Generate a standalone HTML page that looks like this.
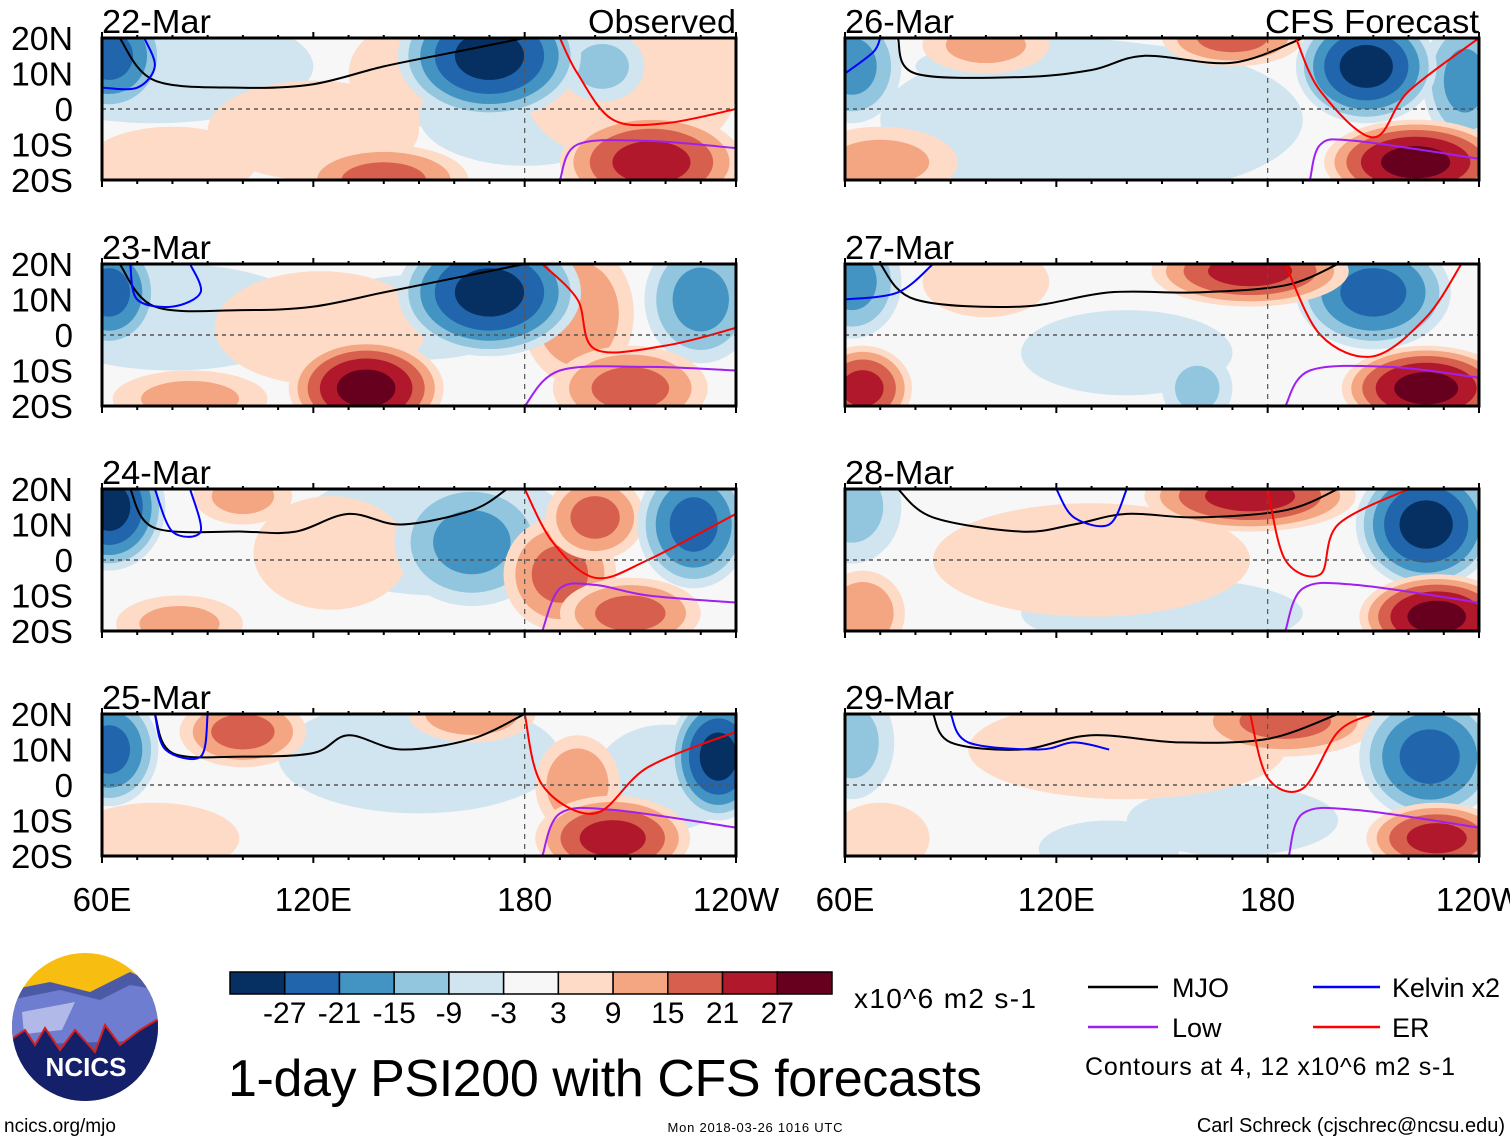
<!DOCTYPE html>
<html><head><meta charset="utf-8"><style>
html,body{margin:0;padding:0;background:#fff;}
svg{display:block;font-family:"Liberation Sans",Arial,sans-serif;}
</style></head><body>
<svg id="c" width="1510" height="1142" viewBox="0 0 1510 1142" xmlns="http://www.w3.org/2000/svg">
<defs>
<clipPath id="logoclip"><ellipse cx="85" cy="1027" rx="73" ry="74"/></clipPath>
</defs>
<g id="panels"></g>
<g id="footer">
  <g clip-path="url(#logoclip)">
    <rect x="10" y="950" width="150" height="155" fill="#f7bd10"/>
    <path d="M10,990 L50,982 L90,992 L130,972 L160,985 L160,1105 L10,1105 Z" fill="#4c5aa6"/>
    <path d="M10,1000 L60,990 L100,1000 L130,985 L160,990 L160,1040 L10,1045 Z" fill="#6f7dd0"/>
    <path d="M22,1012 L75,1002 L62,1030 L24,1034 Z" fill="#b0b9e8"/>
    <path d="M10,1040 L25,1030 L35,1045 L45,1028 L60,1050 L75,1030 L95,1052 L105,1025 L120,1045 L140,1030 L160,1018 L160,1105 L10,1105 Z" fill="#15206a" stroke="#d32020" stroke-width="2"/>
    <text x="86" y="1076" font-size="26" font-weight="bold" fill="#fff" text-anchor="middle">NCICS</text>
  </g>
  <g id="cbar"></g>
  <text x="854" y="1008" font-size="28" textLength="182">x10^6 m2 s-1</text>
  <text x="228" y="1096" font-size="52" textLength="754">1-day PSI200 with CFS forecasts</text>
  <g>
    <line x1="1088" y1="987" x2="1158" y2="987" stroke="#000" stroke-width="2.5"/>
    <text x="1172" y="997" font-size="27">MJO</text>
    <line x1="1313" y1="987" x2="1380" y2="987" stroke="#0000ff" stroke-width="2.5"/>
    <text x="1392" y="997" font-size="27" textLength="108">Kelvin x2</text>
    <line x1="1088" y1="1027" x2="1158" y2="1027" stroke="#a020f0" stroke-width="2.5"/>
    <text x="1172" y="1037" font-size="27">Low</text>
    <line x1="1313" y1="1027" x2="1380" y2="1027" stroke="#ff0000" stroke-width="2.5"/>
    <text x="1392" y="1037" font-size="27">ER</text>
    <text x="1085" y="1075" font-size="25" textLength="370">Contours at 4, 12 x10^6 m2 s-1</text>
  </g>
  <text x="4" y="1132" font-size="19">ncics.org/mjo</text>
  <text x="755" y="1132" font-size="13" text-anchor="middle" textLength="175">Mon 2018-03-26 1016 UTC</text>
  <text x="1505" y="1132" font-size="20" text-anchor="end">Carl Schreck (cjschrec@ncsu.edu)</text>
</g>
</svg>
<script>
const levels = [-27,-21,-15,-9,-3,3,9,15,21,27];
const levelColors = ["#053061","#2166ac","#4393c3","#92c5de","#d1e5f0","#f7f7f7","#fddbc7","#f4a582","#d6604d","#b2182b","#67001f"];
const panelDates = ["22-Mar","23-Mar","24-Mar","25-Mar","26-Mar","27-Mar","28-Mar","29-Mar"];
const latTicks = ["20N","10N","0","10S","20S"];
const lonTicks = ["60E","120E","180","120W"];
// blobs: [lon(0-360), lat, peak value, lon half-width deg, lat half-width deg]
const blobs22 = [[75,12,-6,45,16],[62,15,-21,16,16],[180,-2,-6,30,14],[170,15,-27,26,18],[202,12,-9,12,10],[210,5,6,30,20],[216,-15,21,26,14],[140,-20,15,24,10],[120,-6,6,30,14],[150,10,4,20,15],[228,15,6,24,12],[80,-15,4,24,10]];
const blobs23 = [[80,5,-5,40,15],[62,12,-21,14,16],[150,5,-4,30,12],[170,12,-27,26,18],[230,10,-15,16,18],[195,6,12,16,20],[210,-15,15,22,12],[135,-15,27,22,14],[122,2,6,30,16],[85,-18,9,22,8]];
const blobs24 = [[62,15,-27,16,18],[155,8,-6,40,18],[165,5,-15,22,18],[228,10,-21,16,18],[190,-4,15,16,16],[200,12,15,14,12],[210,-15,15,20,10],[100,18,9,14,8],[125,2,6,22,16],[82,-18,9,18,8]];
const blobs25 = [[62,10,-21,14,16],[235,8,-27,14,18],[100,15,15,18,10],[205,-15,21,22,12],[195,0,12,12,14],[165,20,12,18,8],[150,8,-4,40,16],[75,-15,6,24,10],[220,2,-5,20,15]];
const blobs26 = [[62,12,-15,14,16],[208,12,-27,20,16],[236,8,-15,12,18],[222,-15,27,26,12],[100,18,9,18,8],[170,20,15,20,8],[70,-15,9,22,10],[130,-3,-4,60,22],[120,12,-3,40,8]];
const blobs27 = [[62,15,-15,14,16],[210,12,-21,22,16],[175,18,21,28,10],[225,-15,27,24,12],[65,-15,21,14,12],[100,15,6,18,10],[160,-15,-9,10,10],[140,-5,-3,30,12]];
const blobs28 = [[62,15,-9,14,16],[225,10,-27,20,18],[175,18,21,30,10],[228,-16,27,22,12],[130,0,6,45,16],[65,-15,12,12,12],[150,-15,-3,40,10]];
const blobs29 = [[62,12,-9,12,16],[226,8,-21,20,18],[185,18,15,26,10],[228,-15,21,20,10],[140,10,6,45,14],[135,-18,-6,20,8],[70,-15,6,14,10],[170,-10,-3,30,10]];
const panelBlobs = [blobs22,blobs23,blobs24,blobs25,blobs26,blobs27,blobs28,blobs29];
const mjoLines = [
 [[65,20],[75,8],[100,6],[120,7],[140,12],[160,16],[180,20]],
 [[65,20],[75,8],[100,7],[120,8],[140,12],[160,16],[180,20]],
 [[68,20],[75,9],[100,8],[115,8],[130,13],[145,10],[165,14],[175,20]],
 [[75,20],[80,9],[100,8],[120,9],[130,14],[145,10],[165,13],[180,20]],
 [[75,20],[80,10],[110,9],[130,11],[145,15],[170,13],[190,20]],
 [[70,20],[80,10],[110,8],[135,12],[160,12],[185,14],[200,20]],
 [[75,20],[85,12],[110,8],[125,10],[140,13],[160,12],[185,14],[200,20]],
 [[85,20],[90,12],[110,10],[130,14],[155,12],[180,13],[200,20]]
];
const lowLines = [
 [[190,-20],[195,-10],[215,-9],[240,-11]],[[180,-20],[190,-10],[215,-9],[240,-10]],
 [[185,-20],[190,-8],[200,-7],[215,-10],[240,-12]],[[185,-20],[190,-8],[205,-7],[240,-12]],
 [[192,-20],[195,-10],[205,-9],[240,-14]],[[185,-20],[192,-10],[215,-9],[240,-12]],
 [[185,-20],[190,-8],[205,-7],[240,-12]],[[186,-20],[190,-8],[205,-7],[240,-12]]
];
const erLines = [
 [[190,20],[195,10],[205,-3],[220,-4],[240,0]],[[185,20],[195,10],[200,-4],[220,-3],[240,2]],
 [[180,20],[188,5],[200,-5],[215,0],[240,13]],[[180,20],[185,0],[200,-8],[215,5],[240,15]],
 [[188,20],[195,5],[210,-8],[220,5],[240,20]],[[185,20],[195,0],[210,-6],[225,5],[235,20]],
 [[180,20],[185,0],[195,-4],[200,10],[220,20]],[[175,20],[180,2],[190,-1],[200,15],[210,20]]
];
const kelvinLines = [
 [[60,6],[70,6],[75,12],[72,20]],[[68,20],[70,10],[80,8],[88,12],[85,20]],
 [[75,20],[80,8],[88,8],[85,20]],[[75,20],[78,10],[88,8],[90,20]],
 [[60,10],[68,16],[70,20]],[[60,10],[75,12],[85,20]],
 [[120,20],[125,12],[135,10],[140,20]],[[90,20],[95,12],[115,10],[125,12],[135,10]]
];

const svg = document.getElementById('c');
const NS = "http://www.w3.org/2000/svg";
function mk(tag, attrs, parent){const e=document.createElementNS(NS,tag);for(const k in attrs)e.setAttribute(k,attrs[k]);parent.appendChild(e);return e;}
function colorFor(v){let i=0;while(i<levels.length && v>levels[i]) i++;return levelColors[i];}
function smooth(P){
  let d='M'+P[0][0].toFixed(1)+','+P[0][1].toFixed(1);
  for(let i=0;i<P.length-1;i++){
    const p0=P[i-1]||P[i],p1=P[i],p2=P[i+1],p3=P[i+2]||p2;
    const c1=[p1[0]+(p2[0]-p0[0])/6,p1[1]+(p2[1]-p0[1])/6],c2=[p2[0]-(p3[0]-p1[0])/6,p2[1]-(p3[1]-p1[1])/6];
    d+=' C'+c1.map(v=>v.toFixed(1)).join(',')+' '+c2.map(v=>v.toFixed(1)).join(',')+' '+p2.map(v=>v.toFixed(1)).join(',');
  }
  return d;
}
const PW = 634, PH = 142;
const colX = [102, 845];
const rowY = [38, 264, 489, 714];
const panelsG = document.getElementById('panels');

panelDates.forEach((d, p) => {
  const col = p < 4 ? 0 : 1, row = p % 4;
  const x0 = colX[col], y0 = rowY[row];
  const xs = lon => x0 + (lon - 60) / 180 * PW;
  const ys = lat => y0 + (20 - lat) / 40 * PH;
  const g = mk('g', {}, panelsG);
  
  
  const cp = mk('clipPath', {id: 'cp' + p}, g);
  mk('rect', {x: x0, y: y0, width: PW, height: PH}, cp);
  const inner = mk('g', {'clip-path': 'url(#cp' + p + ')'}, g);
  mk('rect', {x: x0, y: y0, width: PW, height: PH, fill: '#f7f7f7'}, inner);
  const bl = panelBlobs[p].slice().sort((a,b)=>Math.abs(a[2])-Math.abs(b[2]));
  bl.forEach(b => {
    const [lon, lat, val, rx, ry] = b;
    const sgn = Math.sign(val), amp = Math.abs(val);
    const steps = [3,9,15,21,27].filter(l => l <= amp + 0.1);
    steps.forEach(l => {
      const f = Math.sqrt(Math.max(0.06, 1 - (l - 3) / (amp + 1)));
      const e = mk('ellipse', {cx: xs(lon), cy: ys(lat), rx: rx * f * PW / 180, ry: ry * f * PH / 40, fill: colorFor(sgn * (l + 1))}, inner);
      
      
    });
  });
  function line(pts, color, name){
    const e = mk('path', {d: smooth(pts.map(q => [xs(q[0]), ys(q[1])])), fill: 'none', stroke: color, 'stroke-width': 2}, inner);
    
    
  }
  line(mjoLines[p], '#000', 'mjo-contour');
  line(lowLines[p], '#a020f0', 'low-contour');
  line(erLines[p], '#ff0000', 'er-contour');
  line(kelvinLines[p], '#0000ff', 'kelvin-contour');
  mk('line', {x1: x0, y1: ys(0), x2: x0 + PW, y2: ys(0), stroke: '#555', 'stroke-width': 1.5, 'stroke-dasharray': '4,4'}, inner);
  mk('line', {x1: xs(180), y1: y0, x2: xs(180), y2: y0 + PH, stroke: '#555', 'stroke-width': 1.2, 'stroke-dasharray': '5,5'}, inner);
  mk('rect', {x: x0, y: y0, width: PW, height: PH, fill: 'none', stroke: '#000', 'stroke-width': 3}, g);
  for (let lon = 60; lon <= 240; lon += 10) {
    const big = (lon % 60 === 0);
    mk('line', {x1: xs(lon), y1: y0 + PH, x2: xs(lon), y2: y0 + PH + (big ? 7 : 4), stroke: '#000', 'stroke-width': 2}, g);
    mk('line', {x1: xs(lon), y1: y0, x2: xs(lon), y2: y0 - (big ? 6 : 3), stroke: '#000', 'stroke-width': 2}, g);
  }
  const t = mk('text', {x: x0, y: y0 - 5, 'font-size': 33, textLength: 109, lengthAdjust: 'spacingAndGlyphs'}, g);
  t.textContent = d;
  
  
  if (row === 0) {
    const h = mk('text', {x: x0 + PW, y: y0 - 5, 'font-size': 33, 'text-anchor': 'end', textLength: col === 0 ? 148 : 214, lengthAdjust: 'spacingAndGlyphs'}, g);
    h.textContent = col === 0 ? 'Observed' : 'CFS Forecast';
    
    
  }
  if (col === 0) {
    latTicks.forEach((lt, i) => {
      const e = mk('text', {x: 73, y: y0 + i * PH / 4 + 12, 'font-size': 33, 'text-anchor': 'end'}, g);
      if (lt.length === 3) { e.setAttribute('textLength', 62); e.setAttribute('lengthAdjust', 'spacingAndGlyphs'); }
      e.textContent = lt;
      
      
    });
  }
  if (row === 3) {
    lonTicks.forEach((lt, i) => {
      const e = mk('text', {x: x0 + i * PW / 3, y: 911, 'font-size': 33, 'text-anchor': 'middle'}, g);
      e.textContent = lt;
      
      
    });
  }
});

const cb = document.getElementById('cbar');
const cbX = 230, cbW = 602, cbY = 972, cbH = 22;
levelColors.forEach((c, i) => {
  const e = mk('rect', {x: cbX + i * cbW / 11, y: cbY, width: cbW / 11, height: cbH, fill: c, stroke: '#000', 'stroke-width': 1.5}, cb);
  
  
});
levels.forEach((l, i) => {
  const e = mk('text', {x: cbX + (i + 1) * cbW / 11, y: 1023, 'font-size': 30, 'text-anchor': 'middle'}, cb);
  e.textContent = l;
  
  
});
</script>
</body></html>
